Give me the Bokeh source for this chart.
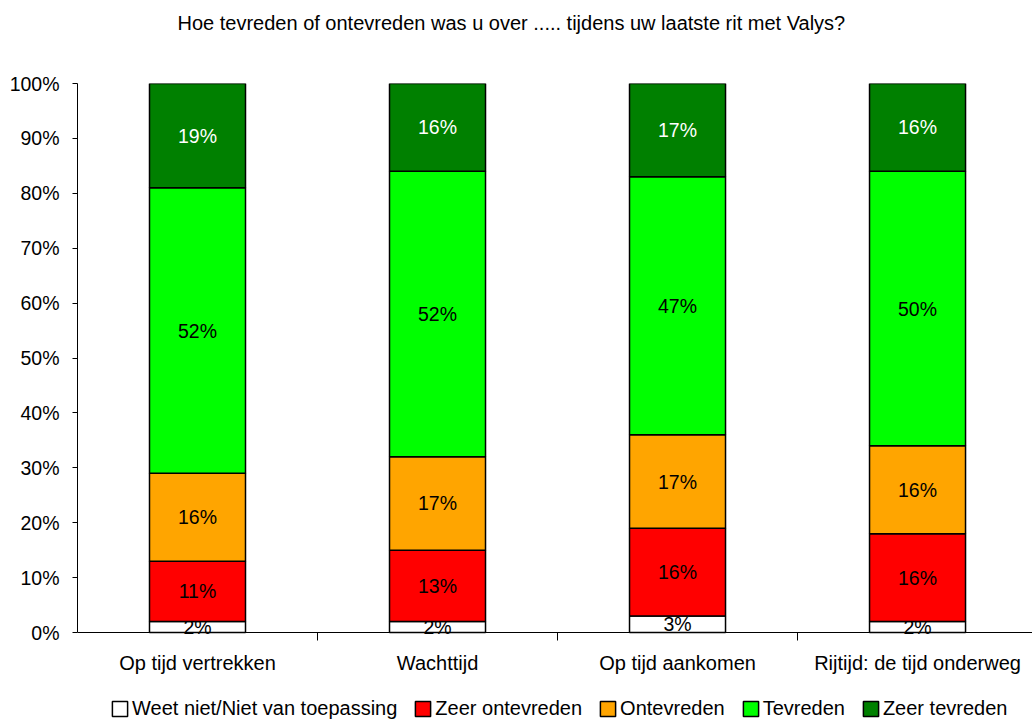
from bokeh.plotting import figure
from bokeh.models import ColumnDataSource, FixedTicker, Legend, LegendItem, Range1d, LinearAxis
from bokeh.core.properties import value
from bokeh.embed import file_html
from bokeh.resources import INLINE

title_text = "Hoe tevreden of ontevreden was u over ..... tijdens uw laatste rit met Valys?"
categories = ["Op tijd vertrekken", "Wachttijd", "Op tijd aankomen", "Rijtijd: de tijd onderweg"]
series_names = ["Weet niet/Niet van toepassing", "Zeer ontevreden", "Ontevreden", "Tevreden", "Zeer tevreden"]
weet_niet = [2, 2, 3, 2]
zeer_ontevreden = [11, 13, 16, 16]
ontevreden = [16, 17, 17, 16]
tevreden = [52, 52, 47, 50]
zeer_tevreden = [19, 16, 17, 16]
series_values = [weet_niet, zeer_ontevreden, ontevreden, tevreden, zeer_tevreden]
colors = ["#FFFFFF", "#FF0000", "#FFA500", "#00FF00", "#008000"]
label_colors = ["#000000", "#000000", "#000000", "#000000", "#FFFFFF"]
y_ticks = [0, 10, 20, 30, 40, 50, 60, 70, 80, 90, 100]

FONT = "Liberation Sans"

# frame runs from 83px to the bottom of the canvas; 0% sits at 632px,
# the space below 0% holds the category labels and the legend
Y_BOTTOM = -100 * 88 / 549

p = figure(width=1032, height=720, output_backend="svg", toolbar_location=None,
           x_range=Range1d(0, 3.979), y_range=Range1d(Y_BOTTOM, 100),
           min_border_left=77, min_border_right=0, min_border_top=83, min_border_bottom=0)
p.outline_line_color = None
p.xgrid.grid_line_color = None
p.ygrid.grid_line_color = None
p.background_fill_color = "white"
p.border_fill_color = "white"

# invisible spacer axis above the frame, so the title sits higher
spacer = LinearAxis(ticker=FixedTicker(ticks=[0.01], minor_ticks=[]), axis_line_color=None,
                    major_tick_line_color=None, minor_tick_line_color=None,
                    major_tick_out=45, major_tick_in=0, minor_tick_out=0,
                    major_label_standoff=0, major_label_overrides={0.01: ""},
                    major_label_text_font_size="1px")
p.add_layout(spacer, "above")

p.title.text = title_text
p.title.text_font = FONT
p.title.text_font_size = "20px"
p.title.text_font_style = "normal"
p.title.text_color = "black"
p.title.align = "left"
p.title.offset = 100
p.title.standoff = 10

xs = [i + 0.5 for i in range(len(categories))]
bottoms = [0] * len(categories)
legend_items = []
for name, vals, col, lcol in zip(series_names, series_values, colors, label_colors):
    tops = [b + v for b, v in zip(bottoms, vals)]
    mids = [(b + t) / 2 for b, t in zip(bottoms, tops)]
    src = ColumnDataSource(dict(x=xs, bottom=bottoms, top=tops, mid=mids,
                                label=[f"{v}%" for v in vals]))
    r = p.vbar(x="x", bottom="bottom", top="top", width=0.4, source=src,
               fill_color=col, line_color="black", line_width=1.5)
    p.text(x="x", y="mid", text="label", source=src, text_align="center",
           text_baseline="middle", text_color=lcol, text_font=value(FONT),
           text_font_size="19.5px")
    legend_items.append(LegendItem(label=name, renderers=[r]))
    bottoms = tops

# y axis
ya = p.left[0]
ya.ticker = FixedTicker(ticks=y_ticks)
ya.bounds = (0, 100)
ya.major_label_overrides = {t: f"{t}%" for t in y_ticks}
ya.major_label_text_font = FONT
ya.major_label_text_font_size = "19.5px"
ya.major_label_text_color = "black"
ya.axis_line_color = "black"
ya.major_tick_line_color = "black"
ya.major_tick_out = 5
ya.major_tick_in = 0
ya.minor_tick_line_color = None
ya.major_label_standoff = 13

# x axis, drawn at the 0% line
xa = p.below[0]
xa.fixed_location = 0
xa.ticker = FixedTicker(ticks=xs, minor_ticks=[1, 2, 3])
xa.major_label_overrides = {x: c for x, c in zip(xs, categories)}
xa.major_label_text_font = FONT
xa.major_label_text_font_size = "20px"
xa.major_label_text_color = "black"
xa.axis_line_color = "black"
xa.major_tick_line_color = None
xa.major_tick_out = 0
xa.major_tick_in = 0
xa.minor_tick_line_color = "black"
xa.minor_tick_out = 8
xa.minor_tick_in = 0
xa.major_label_standoff = 11

legend = Legend(items=legend_items, orientation="horizontal", location=(33, 0),
                label_text_font=FONT, label_text_font_size="20px", label_text_color="black",
                glyph_width=19, glyph_height=19, label_standoff=3, spacing=16,
                padding=0, margin=0, border_line_color=None, background_fill_alpha=0)
p.add_layout(legend)

open("out.html", "w").write(file_html(p, INLINE))
